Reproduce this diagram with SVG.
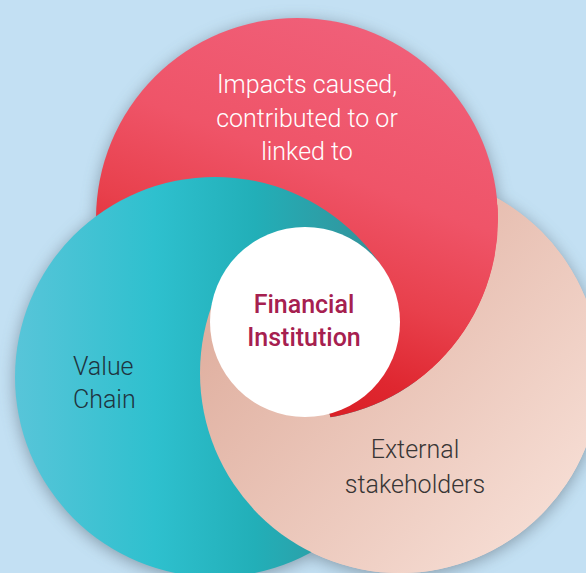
<svg xmlns="http://www.w3.org/2000/svg" width="586" height="573" viewBox="0 0 586 573">
<defs>
  <style>
    .t { font-family: Roboto, "Liberation Sans", sans-serif; font-size: 25px; }
    .light { font-weight: 300; }
  </style>
  <linearGradient id="gRed" gradientUnits="userSpaceOnUse" x1="430" y1="40" x2="290" y2="410">
    <stop offset="0" stop-color="#F0607A"/>
    <stop offset="0.4" stop-color="#EF5468"/>
    <stop offset="0.65" stop-color="#E8404C"/>
    <stop offset="0.85" stop-color="#DF2730"/>
    <stop offset="1" stop-color="#D91E24"/>
  </linearGradient>
  <linearGradient id="gTeal" gradientUnits="userSpaceOnUse" x1="15" y1="0" x2="415" y2="0">
    <stop offset="0" stop-color="#58C5D9"/>
    <stop offset="0.35" stop-color="#2EC0CE"/>
    <stop offset="0.6" stop-color="#22AFB8"/>
    <stop offset="1" stop-color="#3A8990"/>
  </linearGradient>
  <linearGradient id="gPeach" gradientUnits="userSpaceOnUse" x1="230" y1="280" x2="540" y2="560">
    <stop offset="0" stop-color="#DFAE9E"/>
    <stop offset="1" stop-color="#F7DFD6"/>
  </linearGradient>
  <filter id="shadow" x="-20%" y="-20%" width="140%" height="140%">
    <feGaussianBlur stdDeviation="8"/>
  </filter>
  <clipPath id="cPeach"><circle cx="400" cy="373" r="200"/></clipPath>
  <!-- red sector wedge: angles -31.4deg to 75deg around (305,322) -->
  <clipPath id="wRed"><polygon points="305,322 817,10 905,322 460,902"/></clipPath>
  <!-- peach overlay mask: outside red circle, or inside peach wedge (75deg..192deg) -->
  <mask id="mPeach" maskUnits="userSpaceOnUse" x="0" y="0" width="586" height="573">
    <rect x="0" y="0" width="586" height="573" fill="#fff"/>
    <circle cx="297" cy="219" r="201" fill="#000"/>
    <polygon points="305,322 460,902 -300,600 -282,197" fill="#fff"/>
  </mask>
</defs>

<rect width="586" height="573" fill="#C3E0F3"/>

<g id="shadows" filter="url(#shadow)" fill="#55636e" opacity="0.55">
  <circle cx="297" cy="222" r="201"/>
  <circle cx="215" cy="380" r="200"/>
  <circle cx="400" cy="376" r="200"/>
</g>

<g id="circles">
  <g id="external-stakeholders-circle">
    <circle cx="400" cy="373" r="200" fill="url(#gPeach)"/>
  </g>
  <g id="impacts-circle">
    <circle cx="297" cy="219" r="201" fill="url(#gRed)"/>
  </g>
  <g id="value-chain-circle">
    <circle cx="215" cy="377" r="200" fill="url(#gTeal)"/>
  </g>
  <!-- interlocking corrections -->
  <g id="peach-over-teal">
    <circle cx="400" cy="373" r="200" fill="url(#gPeach)" mask="url(#mPeach)"/>
  </g>
  <g id="red-over-triple" clip-path="url(#cPeach)">
    <g clip-path="url(#wRed)">
      <circle cx="297" cy="219" r="201" fill="url(#gRed)"/>
    </g>
  </g>
</g>

<g id="financial-institution">
  <circle cx="305" cy="322" r="95" fill="#FFFFFF"/>
  <text class="t" x="304" y="313" text-anchor="middle" font-weight="500" fill="#A6204F">Financial</text>
  <text class="t" x="304" y="346" text-anchor="middle" font-weight="500" fill="#A6204F">Institution</text>
</g>

<g id="impacts-label">
  <text class="t light" x="307" y="93" text-anchor="middle" fill="#FFFFFF">Impacts caused,</text>
  <text class="t light" x="307" y="127" text-anchor="middle" fill="#FFFFFF">contributed to or</text>
  <text class="t light" x="307" y="160" text-anchor="middle" fill="#FFFFFF">linked to</text>
</g>

<g id="value-chain-label">
  <text class="t light" x="73" y="375" fill="#1F3440">Value</text>
  <text class="t light" x="73" y="408" fill="#1F3440">Chain</text>
</g>

<g id="external-label">
  <text class="t light" x="415" y="458" text-anchor="middle" fill="#383535">External</text>
  <text class="t light" x="415" y="493" text-anchor="middle" fill="#383535">stakeholders</text>
</g>
</svg>
